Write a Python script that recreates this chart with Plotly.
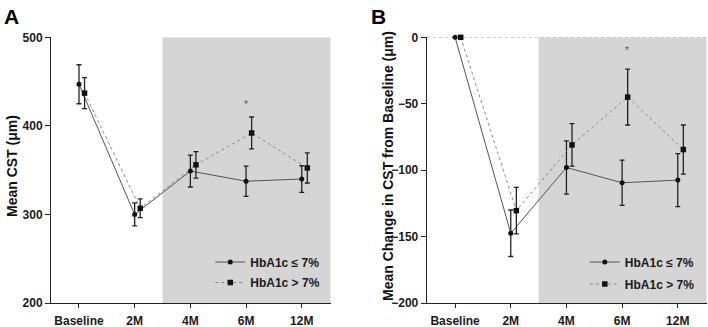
import plotly.graph_objects as go

categories = ["Baseline", "2M", "4M", "6M", "12M"]
cat_pos = [0, 1, 2, 3, 4]
offset2 = 0.1

a_le7 = [447, 300, 349, 337.5, 340]
a_le7_err = [22, 13, 18, 17, 15]
a_gt7 = [437, 307, 356, 392, 352.5]
a_gt7_err = [17.5, 10.5, 15, 18, 17]

b_le7 = [0, -147.5, -98, -109.5, -107.5]
b_le7_err = [None, 17.5, 20, 17, 20]
b_gt7 = [0, -130.5, -81, -45, -84.5]
b_gt7_err = [None, 17.5, 16, 21, 18.5]

star_a = (3.0, 424)
star_b = (3.08, -10)

label_le7 = "HbA1c ≤ 7%"
label_gt7 = "HbA1c > 7%"

FONT = "Liberation Sans, Arial, sans-serif"
x2pos = [p + offset2 for p in cat_pos]

fig = go.Figure()

def add_series(x, y, err, xa, ya, name, dash, lcolor, symbol, msize, legend, group):
    fig.add_trace(go.Scatter(
        x=x, y=y, xaxis=xa, yaxis=ya, name=name, mode="lines+markers",
        line=dict(color=lcolor, width=1, dash=dash),
        marker=dict(color="#111111", size=msize, symbol=symbol),
        error_y=dict(type="data", array=err, visible=True, color="#222222",
                     thickness=1.3, width=2.5),
        cliponaxis=False, legend=legend, legendgroup=group, showlegend=True))

add_series(cat_pos, a_le7, a_le7_err, "x", "y", label_le7, "solid", "#555555", "circle", 5, "legend", "a1")
add_series(x2pos, a_gt7, a_gt7_err, "x", "y", label_gt7, "dot", "#888888", "square", 5.5, "legend", "a2")
add_series(cat_pos, b_le7, b_le7_err, "x2", "y2", label_le7, "solid", "#555555", "circle", 5, "legend2", "b1")
add_series(x2pos, b_gt7, b_gt7_err, "x2", "y2", label_gt7, "dot", "#888888", "square", 5.5, "legend2", "b2")

shade = "#d5d5d5"
fig.add_shape(type="rect", xref="x", yref="y", x0=1.5, x1=4.52, y0=200, y1=500,
              fillcolor=shade, line_width=0, layer="below")
fig.add_shape(type="rect", xref="x2", yref="y2", x0=1.5, x1=4.52, y0=-200, y1=0,
              fillcolor=shade, line_width=0, layer="below")
fig.add_shape(type="line", xref="x2", yref="y2", x0=-0.51, x1=4.52, y0=0, y1=0,
              line=dict(color="#aaaaaa", width=1, dash="dot"), layer="below")

axis_common = dict(showline=True, linecolor="#222222", linewidth=1, ticks="outside",
                   tickcolor="#222222", showgrid=False, zeroline=False, automargin=False,
                   tickfont=dict(family=FONT, size=12, color="#1a1a1a", weight="bold"))

legend_font = dict(family=FONT, size=12, color="#1a1a1a", weight="bold")

fig.update_layout(
    width=708, height=327, margin=dict(l=0, r=0, t=0, b=0),
    paper_bgcolor="white", plot_bgcolor="rgba(0,0,0,0)",
    xaxis=dict(domain=[0.0720, 0.4671], range=[-0.503, 4.52], tickvals=cat_pos,
               ticktext=categories, ticklen=4, ticklabelstandoff=3, **axis_common),
    yaxis=dict(domain=[0.0734, 0.8859], range=[200, 500], tickvals=[200, 300, 400, 500],
               ticklen=5, anchor="x", **axis_common),
    xaxis2=dict(domain=[0.6027, 0.9982], range=[-0.51, 4.52], tickvals=cat_pos,
                ticktext=categories, ticklen=4, ticklabelstandoff=3, anchor="y2", **axis_common),
    yaxis2=dict(domain=[0.0734, 0.8859], range=[-200, 0],
                tickvals=[-200, -150, -100, -50, 0], ticklen=5, anchor="x2", **axis_common),
    legend=dict(x=0.297, y=0.243, xanchor="left", yanchor="top", bgcolor="rgba(0,0,0,0)",
                font=legend_font, itemwidth=30, tracegroupgap=1.5),
    legend2=dict(x=0.826, y=0.243, xanchor="left", yanchor="top", bgcolor="rgba(0,0,0,0)",
                 font=legend_font, itemwidth=30, tracegroupgap=3),
    showlegend=True,
)

ann_font = dict(family=FONT, size=14, color="#111111", weight="bold")
fig.add_annotation(text="Mean CST (μm)", xref="paper", yref="paper",
                   x=12 / 708, y=1 - 166 / 327, textangle=-90, showarrow=False,
                   xanchor="center", yanchor="middle", font=ann_font)
fig.add_annotation(text="Mean Change in CST from Baseline (μm)", xref="paper", yref="paper",
                   x=388 / 708, y=1 - 166 / 327, textangle=-90, showarrow=False,
                   xanchor="center", yanchor="middle", font=ann_font)
fig.add_annotation(text="A", xref="paper", yref="paper", x=2 / 708, y=1 - 3 / 327,
                   xanchor="left", yanchor="top", showarrow=False,
                   font=dict(family=FONT, size=21, color="#000000", weight="bold"))
fig.add_annotation(text="B", xref="paper", yref="paper", x=369 / 708, y=1 - 3 / 327,
                   xanchor="left", yanchor="top", showarrow=False,
                   font=dict(family=FONT, size=21, color="#000000", weight="bold"))
fig.add_annotation(text="*", xref="x", yref="y", x=star_a[0], y=star_a[1], showarrow=False,
                   font=dict(family=FONT, size=10, color="#555555"))
fig.add_annotation(text="*", xref="x2", yref="y2", x=star_b[0], y=star_b[1], showarrow=False,
                   font=dict(family=FONT, size=10, color="#555555"))

fig.write_html("out.html")
